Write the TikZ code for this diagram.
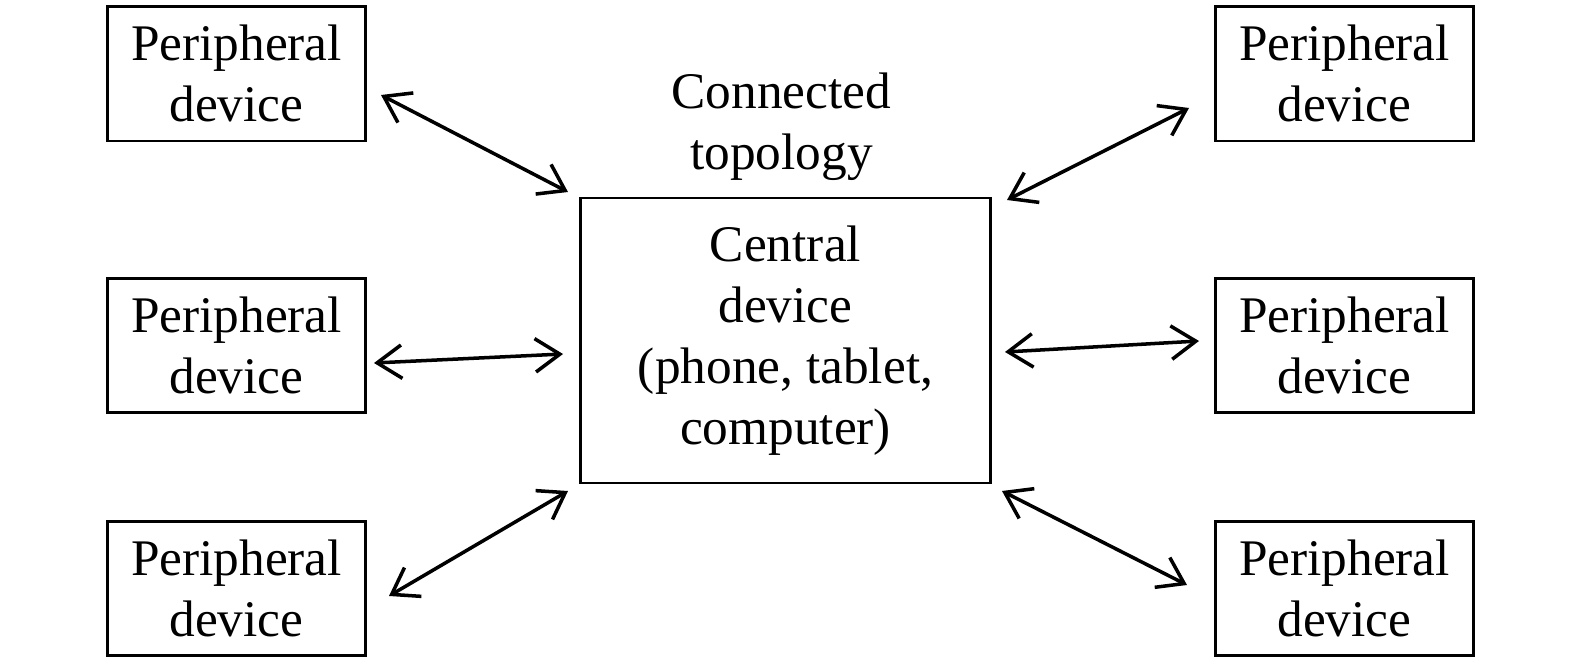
\documentclass[tikz,border=0pt]{standalone}
\usepackage{fontspec}
\setmainfont{Liberation Serif}
\usepackage{tikz}
\usetikzlibrary{positioning, arrows.meta, calc}

\tikzset{
  device/.style={draw, line width=0.75pt, align=center, inner sep=0pt,
    minimum width=2.58cm, minimum height=1.34cm,
    font=\fontsize{14.6}{17.4}\selectfont},
  central/.style={device, minimum width=4.1cm, minimum height=2.85cm},
  link/.style={line width=1pt, {Straight Barb[length=7pt, width=9.5pt, line width=1pt]}-{Straight Barb[length=7pt, width=9.5pt, line width=1pt]}}
}

\begin{document}
\begin{tikzpicture}[x=0.01cm, y=-0.01cm]
\useasboundingbox (0, 0) rectangle (1575, 667);

\node[device] (pl1) at (236.5, 73.8) {Peripheral\\device};
\node[device] (pl2) at (236.5, 345.5) {Peripheral\\device};
\node[device] (pl3) at (236.5, 588.7) {Peripheral\\device};
\node[device] (pr1) at (1344.5, 73.8) {Peripheral\\device};
\node[device] (pr2) at (1344.5, 345.5) {Peripheral\\device};
\node[device] (pr3) at (1344.5, 588.7) {Peripheral\\device};

\node[central] (cen) at (785.5, 340.5) {Central\\device\\(phone, tablet,\\computer)};
\node[align=center, font=\fontsize{14.6}{17.4}\selectfont] (topo) at (781.5, 127) {Connected\\topology};

\coordinate (a1) at (381, 95);
\coordinate (b1) at (568, 192);
\coordinate (a2) at (374, 363);
\coordinate (b2) at (563, 354);
\coordinate (a3) at (389, 596);
\coordinate (b3) at (568, 491);
\coordinate (a4) at (1189, 108);
\coordinate (b4) at (1007, 200);
\coordinate (a5) at (1199, 341);
\coordinate (b5) at (1005, 352);
\coordinate (a6) at (1187, 585);
\coordinate (b6) at (1002, 491);

\draw[link] (a1) -- (b1);
\draw[link] (a2) -- (b2);
\draw[link] (a3) -- (b3);
\draw[link] (a4) -- (b4);
\draw[link] (a5) -- (b5);
\draw[link] (a6) -- (b6);
\end{tikzpicture}
\end{document}
